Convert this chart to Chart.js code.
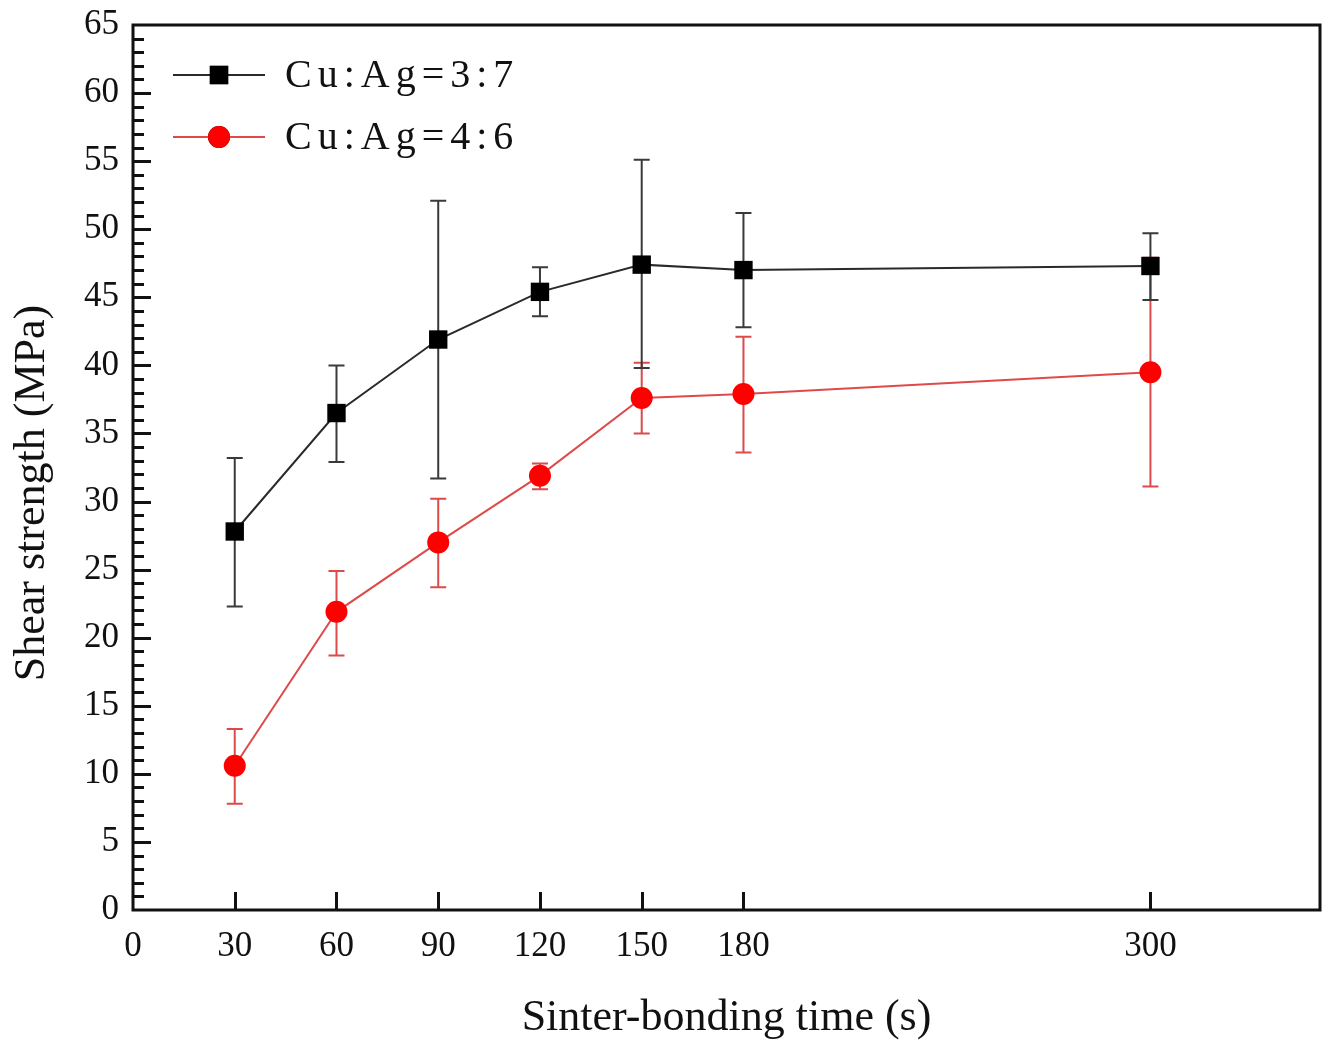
<!DOCTYPE html>
<html>
<head>
<meta charset="utf-8">
<script src="https://cdn.jsdelivr.net/npm/chart.js@4.4.1/dist/chart.umd.min.js"></script>
<style>
  html, body { margin: 0; padding: 0; background: #fff; }
  #wrap { width: 1323px; height: 1041px; }
</style>
</head>
<body>
<div id="wrap"><canvas id="myChart" width="1323" height="1041"></canvas></div>
<script>
// sinter-bonding time (s)
const times = [30, 60, 90, 120, 150, 180, 300];
const xTickValues = [0, 30, 60, 90, 120, 150, 180, 300];

// Cu:Ag=3:7
const strength37 = [27.8, 36.5, 41.9, 45.4, 47.4, 47.0, 47.3];
const upper37 = [33.2, 40.0, 52.1, 47.2, 55.1, 51.2, 49.7];
const lower37 = [22.3, 32.9, 31.7, 43.6, 39.8, 42.8, 44.8];

// Cu:Ag=4:6
const strength46 = [10.6, 21.9, 27.0, 31.9, 37.6, 37.9, 39.5];
const upper46 = [13.3, 24.9, 30.2, 32.8, 40.2, 42.1, 47.9];
const lower46 = [7.8, 18.7, 23.7, 30.9, 35.0, 33.6, 31.1];

const labels = ['Cu:Ag=3:7', 'Cu:Ag=4:6'];
const FONT = '"Liberation Serif", "Times New Roman", serif';

const toPoints = (ys) => times.map((t, i) => ({x: t, y: ys[i]}));

// no extra edge padding for labels, the frame is fixed
const noPad = (scale) => {
    scale.paddingTop = 0; scale.paddingBottom = 0;
    scale.paddingLeft = 0; scale.paddingRight = 0;
};

// error bars, frame, tick marks, legend, y title
const extras = {
    id: 'extras',
    beforeDatasetsDraw(chart){
        const ctx = chart.ctx;
        const xs = chart.scales.x, ys = chart.scales.y;
        const bars = [
            {up: upper46, lo: lower46, color: '#dd4a4a'},
            {up: upper37, lo: lower37, color: '#3a3a3a'}
        ];
        ctx.save();
        bars.forEach(b => {
            ctx.strokeStyle = b.color;
            ctx.lineWidth = 2;
            times.forEach((t, i) => {
                const px = xs.getPixelForValue(t);
                const pu = ys.getPixelForValue(b.up[i]);
                const pl = ys.getPixelForValue(b.lo[i]);
                ctx.beginPath();
                ctx.moveTo(px, pu); ctx.lineTo(px, pl);
                ctx.moveTo(px - 8, pu); ctx.lineTo(px + 8, pu);
                ctx.moveTo(px - 8, pl); ctx.lineTo(px + 8, pl);
                ctx.stroke();
            });
        });
        ctx.restore();
    },
    afterDraw(chart){
        const ctx = chart.ctx;
        const a = chart.chartArea;
        const xs = chart.scales.x, ys = chart.scales.y;
        ctx.save();
        ctx.strokeStyle = '#111';
        ctx.lineWidth = 3;
        ctx.strokeRect(a.left, a.top, a.right - a.left, a.bottom - a.top);

        // y ticks: minor every 1, major every 5
        ctx.beginPath();
        for(let v = 1; v < 65; v++){
            const py = Math.round(ys.getPixelForValue(v)) + 0.5;
            const len = v % 5 === 0 ? 18 : 11;
            ctx.moveTo(a.left, py); ctx.lineTo(a.left + len, py);
        }
        // x ticks
        times.forEach(t => {
            const px = Math.round(xs.getPixelForValue(t)) + 0.5;
            ctx.moveTo(px, a.bottom); ctx.lineTo(px, a.bottom - 18);
        });
        ctx.stroke();

        // legend
        const sets = chart.data.datasets;
        sets.forEach((ds, i) => {
            const y = a.top + 50 + i * 62;
            ctx.strokeStyle = ds.borderColor;
            ctx.lineWidth = 2;
            ctx.beginPath();
            ctx.moveTo(a.left + 40, y); ctx.lineTo(a.left + 132, y);
            ctx.stroke();
            Chart.helpers.drawPoint(ctx, {
                pointStyle: ds.pointStyle, radius: ds.pointRadius, borderWidth: 0
            }, a.left + 86, y);
            ctx.fillStyle = ds.pointBackgroundColor;
            ctx.fill();
            ctx.fillStyle = '#111';
            ctx.font = '40px ' + FONT;
            ctx.letterSpacing = '6px';
            ctx.textBaseline = 'middle';
            ctx.textAlign = 'left';
            ctx.fillText(ds.label, a.left + 152, y + 1);
        });
        ctx.letterSpacing = '0px';

        // y axis title
        ctx.translate(32, 493);
        ctx.rotate(-Math.PI / 2);
        ctx.fillStyle = '#111';
        ctx.font = '44px ' + FONT;
        ctx.textAlign = 'center';
        ctx.textBaseline = 'middle';
        ctx.fillText('Shear strength (MPa)', 0, 0);
        ctx.restore();
    }
};

new Chart(document.getElementById('myChart').getContext('2d'), {
    type: 'line',
    data: {
        datasets: [{
            label: labels[0],
            data: toPoints(strength37),
            borderColor: '#2a2a2a',
            borderWidth: 2,
            pointStyle: 'rect',
            pointRadius: 13,
            pointBorderWidth: 0,
            pointBackgroundColor: '#000',
            order: 1
        }, {
            label: labels[1],
            data: toPoints(strength46),
            borderColor: '#de4a4a',
            borderWidth: 2,
            pointStyle: 'circle',
            pointRadius: 11,
            pointBorderWidth: 0,
            pointBackgroundColor: '#ff0000',
            order: 2
        }]
    },
    options: {
        responsive: false,
        animation: false,
        layout: { autoPadding: false, padding: { top: 25, right: 3, left: 0, bottom: 0 } },
        plugins: { legend: { display: false }, tooltip: { enabled: false } },
        scales: {
            x: {
                type: 'linear',
                min: 0, max: 350,
                grid: { display: false, drawTicks: false },
                border: { display: false },
                afterBuildTicks: (scale) => { scale.ticks = xTickValues.map(v => ({value: v})); },
                afterFit: (scale) => { scale.height = 131; noPad(scale); },
                ticks: { color: '#111', padding: 16, maxRotation: 0, autoSkip: false,
                         font: { family: FONT, size: 35 } },
                title: { display: true, text: 'Sinter-bonding time (s)', color: '#111',
                         font: { family: FONT, size: 44 }, padding: { top: 26, bottom: -4 } }
            },
            y: {
                min: 0, max: 65,
                grid: { display: false, drawTicks: false },
                border: { display: false },
                afterFit: (scale) => { scale.width = 133; noPad(scale); },
                ticks: { stepSize: 5, color: '#111', padding: 14,
                         font: { family: FONT, size: 35 } }
            }
        }
    },
    plugins: [extras]
});
</script>
</body>
</html>
